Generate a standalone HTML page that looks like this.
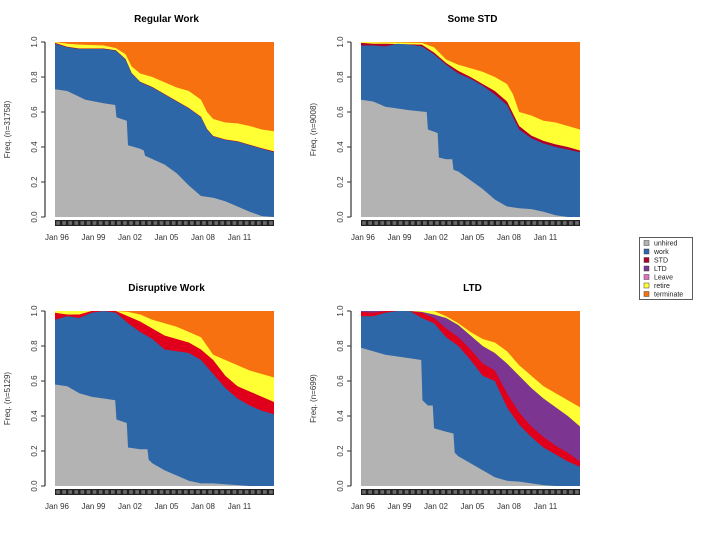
<!DOCTYPE html>
<html><head><meta charset="utf-8"><style>
body{margin:0;background:#fff;width:720px;height:540px;overflow:hidden;font-family:"Liberation Sans",sans-serif}
</style></head><body>
<svg id="c" width="720" height="540" xmlns="http://www.w3.org/2000/svg"></svg>
<script>
// Year ticks
const tickYears = [1996, 1999, 2002, 2005, 2008, 2011];
const tickLabels = ["Jan 96", "Jan 99", "Jan 02", "Jan 05", "Jan 08", "Jan 11"];
const yTicks = [0, 0.2, 0.4, 0.6, 0.8, 1.0];
const yTickLabels = ["0.0", "0.2", "0.4", "0.6", "0.8", "1.0"];
const legendStates = ["unhired", "work", "STD", "LTD", "Leave", "retire", "terminate"];

// Cumulative boundaries as [year, share] pairs
// Regular Work
const rwUnhired = [[1996,.73],[1997,.72],[1998.5,.67],[2000,.65],[2000.95,.64],[2001.05,.57],[2001.9,.55],[2002.0,.41],[2003,.39],[2003.3,.38],[2003.4,.35],[2005,.30],[2006,.25],[2007,.18],[2008,.12],[2009,.11],[2010,.09],[2011,.06],[2012,.03],[2013,.005],[2014,0]];
const rwWork = [[1996,.99],[1997,.97],[1998,.96],[2000,.96],[2001,.95],[2001.8,.90],[2002.3,.82],[2003,.77],[2004,.74],[2005,.70],[2006,.66],[2007,.62],[2008,.57],[2008.5,.50],[2009,.46],[2010,.44],[2011,.43],[2012,.41],[2013,.39],[2014,.37]];
const rwStd = [[1996,.995],[1997,.973],[1998,.963],[2000,.963],[2001,.953],[2001.8,.903],[2002.3,.823],[2003,.773],[2004,.743],[2005,.703],[2006,.663],[2007,.623],[2008,.573],[2008.5,.503],[2009,.463],[2010,.443],[2011,.433],[2012,.413],[2013,.393],[2014,.375]];
const rwRetire = [[1996,1],[1997,.99],[1998,.985],[2000,.98],[2001,.965],[2001.8,.93],[2002.3,.86],[2003,.82],[2004,.80],[2005,.77],[2006,.74],[2007,.72],[2008,.67],[2008.5,.60],[2009,.56],[2010,.54],[2011,.535],[2012,.52],[2013,.50],[2014,.49]];
// Some STD
const ssUnhired = [[1996,.67],[1997,.66],[1998,.63],[1999,.62],[2000,.61],[2001.4,.60],[2001.5,.50],[2002.3,.48],[2002.4,.34],[2003,.33],[2003.5,.33],[2003.6,.27],[2004,.26],[2005,.21],[2006,.16],[2007,.10],[2008,.06],[2009,.05],[2010,.045],[2011,.03],[2012,.01],[2013,0],[2014,0]];
const ssWork = [[1996,.98],[1997,.98],[1998,.975],[1999,.99],[2000,.985],[2001,.975],[2002,.93],[2003,.87],[2004,.82],[2005,.79],[2006,.75],[2007,.70],[2008,.64],[2009,.50],[2010,.45],[2011,.42],[2012,.40],[2013,.385],[2014,.37]];
const ssStd = [[1996,.995],[1997,.99],[1998,.99],[2001,.985],[2002,.94],[2003,.88],[2004,.835],[2005,.80],[2006,.76],[2007,.72],[2008,.66],[2009,.52],[2010,.465],[2011,.435],[2012,.415],[2013,.40],[2014,.38]];
const ssRetire = [[1996,1],[2001,.995],[2002,.97],[2003,.90],[2004,.87],[2005,.85],[2006,.83],[2007,.80],[2008,.76],[2008.5,.70],[2009,.60],[2010,.58],[2011,.55],[2012,.54],[2013,.52],[2014,.50]];
// Disruptive Work
const dwUnhired = [[1996,.58],[1997,.57],[1998,.53],[1999,.51],[2000,.50],[2000.95,.49],[2001.05,.38],[2001.9,.36],[2002.0,.22],[2003,.21],[2003.6,.21],[2003.7,.15],[2004,.13],[2005,.09],[2006,.06],[2007,.03],[2008,.015],[2009,.015],[2010,.01],[2011,.005],[2012,0],[2014,0]];
const dwWork = [[1996,.95],[1997,.97],[1998,.96],[1999,.99],[2000,1.0],[2001,.99],[2002,.93],[2003,.88],[2004,.84],[2005,.78],[2006,.77],[2007,.76],[2008,.72],[2009,.64],[2010,.56],[2011,.50],[2012,.46],[2013,.43],[2014,.41]];
const dwStd = [[1996,.99],[1997,.98],[1998,.98],[1999,1],[2001,1],[2002,.97],[2003,.94],[2004,.90],[2005,.86],[2006,.84],[2007,.82],[2008,.78],[2009,.72],[2010,.63],[2011,.57],[2012,.54],[2013,.51],[2014,.48]];
const dwRetire = [[1996,1],[2001,1],[2002,.995],[2003,.98],[2004,.95],[2005,.93],[2006,.91],[2007,.88],[2008,.85],[2008.5,.80],[2009,.75],[2010,.72],[2011,.69],[2012,.66],[2013,.64],[2014,.62]];
// LTD
const ltUnhired = [[1996,.79],[1997,.77],[1998,.75],[1999,.74],[2000,.73],[2000.95,.72],[2001.05,.49],[2001.5,.46],[2001.9,.46],[2002.0,.33],[2003,.31],[2003.6,.30],[2003.7,.19],[2004,.17],[2005,.13],[2006,.09],[2007,.05],[2008,.03],[2009,.025],[2010,.015],[2011,.005],[2012,0],[2014,0]];
const ltWork = [[1996,.97],[1997,.97],[1998,.99],[1999,1],[2000,1],[2001,.96],[2002,.93],[2003,.85],[2004,.80],[2005,.72],[2006,.63],[2007,.60],[2008,.45],[2009,.35],[2010,.28],[2011,.22],[2012,.18],[2013,.14],[2014,.11]];
const ltStd = [[1996,.995],[1997,.99],[1998,1],[2000,1],[2001,.99],[2002,.96],[2003,.90],[2004,.85],[2005,.78],[2006,.70],[2007,.66],[2008,.53],[2009,.42],[2010,.34],[2011,.28],[2012,.23],[2013,.19],[2014,.14]];
const ltLtd = [[1996,1],[2000,1],[2001,.995],[2002,.98],[2003,.96],[2004,.92],[2005,.86],[2006,.80],[2007,.76],[2008,.70],[2009,.63],[2010,.56],[2011,.50],[2012,.45],[2013,.40],[2014,.34]];
const ltRetire = [[1996,1],[2002,1],[2003,.97],[2004,.93],[2005,.88],[2006,.84],[2007,.82],[2008,.77],[2009,.69],[2010,.63],[2011,.57],[2012,.53],[2013,.49],[2014,.45]];

const COL = {unhired:"#b3b3b3", work:"#2d67a8", std:"#e0001b", stdDark:"#b0002a", ltd:"#7d3592", leave:"#e070c0", retire:"#ffff33", terminate:"#f87111"};

const panels = [
 {name:"regular-work", title:"Regular Work", ylab:"Freq. (n=31758)", x0:55, y0:42, layers:[["retire",rwRetire,COL.retire],["std",rwStd,COL.stdDark],["work",rwWork,COL.work],["unhired",rwUnhired,COL.unhired]]},
 {name:"some-std", title:"Some STD", ylab:"Freq. (n=9008)", x0:361, y0:42, layers:[["retire",ssRetire,COL.retire],["std",ssStd,COL.stdDark],["work",ssWork,COL.work],["unhired",ssUnhired,COL.unhired]]},
 {name:"disruptive-work", title:"Disruptive Work", ylab:"Freq. (n=5129)", x0:55, y0:311, layers:[["retire",dwRetire,COL.retire],["std",dwStd,COL.std],["work",dwWork,COL.work],["unhired",dwUnhired,COL.unhired]]},
 {name:"ltd", title:"LTD", ylab:"Freq. (n=699)", x0:361, y0:311, layers:[["retire",ltRetire,COL.retire],["ltd",ltLtd,COL.ltd],["std",ltStd,COL.std],["work",ltWork,COL.work],["unhired",ltUnhired,COL.unhired]]}
];
const W=219, H=175, Y0=1996, Y1=2014;
const NS="http://www.w3.org/2000/svg";
const svg=document.getElementById("c");
function el(tag,attrs,parent){const e=document.createElementNS(NS,tag);for(const k in attrs)e.setAttribute(k,attrs[k]);(parent||svg).appendChild(e);return e;}

panels.forEach(p=>{
  const g=el("g",{});
  
  
  const xs=y=>p.x0+(y-Y0)/(Y1-Y0)*W;
  const ys=v=>p.y0+H-v*H;
  const bg=el("rect",{x:p.x0,y:p.y0,width:W,height:H,fill:COL.terminate},g);
  
  
  p.layers.forEach(([st,arr,c])=>{
    let d="M"+xs(arr[0][0])+","+ys(0);
    arr.forEach(([t,v])=>{d+=" L"+xs(t).toFixed(2)+","+ys(v).toFixed(2);});
    d+=" L"+xs(arr[arr.length-1][0])+","+ys(0)+" Z";
    const a=el("path",{d:d,fill:c},g);
    
    
  });
  // title
  const t=el("text",{x:p.x0+W/2+2,y:p.y0-20,"text-anchor":"middle","font-size":"10","font-weight":"bold",fill:"#000"},g);
  t.textContent=p.title;
  
  
  // y axis
  const ax=p.x0-10;
  const yl=el("line",{x1:ax,y1:ys(0),x2:ax,y2:ys(1),stroke:"#333","stroke-width":1.2},g);
  
  
  yTicks.forEach((v,i)=>{
    el("line",{x1:ax-4,y1:ys(v),x2:ax,y2:ys(v),stroke:"#333"},g);
    const tx=el("text",{x:0,y:0,"text-anchor":"middle","font-size":"8",fill:"#333",transform:`translate(${ax-8},${ys(v)}) rotate(-90)`},g);
    tx.textContent=yTickLabels[i];
    
    
  });
  const ylab=el("text",{x:0,y:0,"text-anchor":"middle","font-size":"8",fill:"#333",transform:`translate(${ax-35},${p.y0+H/2}) rotate(-90)`},g);
  ylab.textContent=p.ylab;
  
  
  // tick bar
  const by=p.y0+H+3;
  const bar=el("rect",{x:p.x0,y:by,width:W,height:6,fill:"#222"},g);
  
  
  for(let k=0;k<36;k++){
    el("rect",{x:p.x0+k*W/36+1.2,y:by+1.2,width:W/36-2.4,height:3.6,fill:"#6a6a6a"},g);
  }
  tickYears.forEach((yr,i)=>{
    const tx=el("text",{x:xs(yr)+2,y:by+20,"text-anchor":"middle","font-size":"8",fill:"#333"},g);
    tx.textContent=tickLabels[i];
    
    
  });
});

// legend
const lg=el("g",{});


el("rect",{x:639.5,y:237.5,width:53,height:62,fill:"#fff",stroke:"#333","stroke-width":0.8},lg);
const legCols=[COL.unhired,COL.work,COL.stdDark,COL.ltd,COL.leave,COL.retire,COL.terminate];
legendStates.forEach((s,i)=>{
  const y=243+i*8.5;
  const m=el("rect",{x:644,y:y-2.5,width:5,height:5,fill:legCols[i],stroke:"#444","stroke-width":0.5},lg);
  
  
  const t=el("text",{x:654,y:y+2.5,"font-size":"7",fill:"#222"},lg);
  t.textContent=s;
  
  
});
</script>
</body></html>
